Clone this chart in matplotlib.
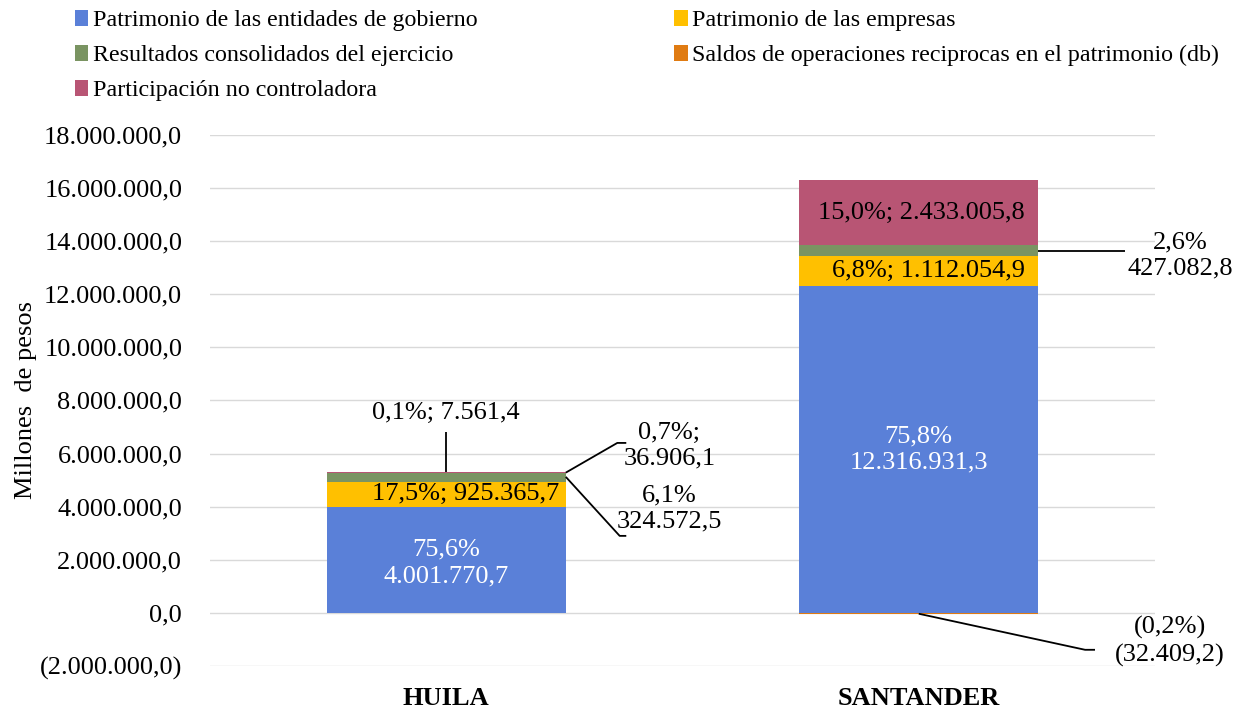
import numpy as np
import matplotlib.pyplot as plt
from matplotlib.ticker import FuncFormatter

plt.rcParams['font.family'] = ['Liberation Serif', 'DejaVu Serif']

departamentos = ['HUILA', 'SANTANDER']
series = ['Patrimonio de las entidades de gobierno',
          'Patrimonio de las empresas',
          'Resultados consolidados del ejercicio',
          'Saldos de operaciones reciprocas en el patrimonio (db)',
          'Participación no controladora']
gobierno  = [4001770.7, 12316931.3]
empresas  = [925365.7, 1112054.9]
resultados = [324572.5, 427082.8]
saldos    = [7561.4, -32409.2]
no_control = [36906.1, 2433005.8]
colores = ['#5A80D8', '#FFC000', '#7A9462', '#E07B12', '#B85574']


def fmt_num(v, dec=1):
    s = f"{abs(v):,.{dec}f}".replace(',', 'X').replace('.', ',').replace('X', '.')
    return f"({s})" if v < 0 else s


fig = plt.figure(figsize=(12.5, 7.11), dpi=100)
ax = fig.add_axes([0.168, 0.0633, 0.756, 0.747])

x = np.arange(len(departamentos))
w = 0.506
valores = [gobierno, empresas, resultados, saldos, no_control]
pos_base = np.zeros(2)
neg_base = np.zeros(2)
bars = []
for vals, col, name in zip(valores, colores, series):
    vals = np.array(vals)
    base = np.where(vals >= 0, pos_base, neg_base)
    b = ax.bar(x, vals, w, bottom=base, color=col, label=name, zorder=2)
    bars.append(b)
    pos_base = pos_base + np.where(vals >= 0, vals, 0)
    neg_base = neg_base + np.where(vals < 0, vals, 0)

ax.set_xlim(-0.5, 1.5)
ax.set_ylim(-2000000, 18000000)
ax.set_yticks(np.arange(-2000000, 18000001, 2000000))
ax.yaxis.set_major_formatter(FuncFormatter(lambda v, p: fmt_num(v)))
ax.set_xticks(x)
ax.set_xticklabels(departamentos, fontweight='bold', fontsize=19)
ax.tick_params(axis='y', labelsize=19, length=0, pad=20)
ax.tick_params(axis='x', length=0, pad=15)
ax.grid(axis='y', color='#D9D9D9', linewidth=1, zorder=0)
for s in ax.spines.values():
    s.set_visible(False)
ax.set_ylabel('Millones  de pesos', fontsize=19)
ax.yaxis.set_label_coords(-0.183, 0.5)

fs = 19
lkw = dict(color='black', lw=1.3, solid_capstyle='butt', zorder=4)

# Huila
ax.text(0, gobierno[0] / 2 - 120000, "75,6%\n" + fmt_num(gobierno[0]),
        color='white', ha='center', va='center', fontsize=fs,
        linespacing=1.25, zorder=3)
ax.text(0.04, gobierno[0] + empresas[0] / 2, "17,5%; " + fmt_num(empresas[0]),
        ha='center', va='center', fontsize=fs, zorder=3)
top_h = gobierno[0] + empresas[0] + resultados[0] + saldos[0] + no_control[0]
ax.text(0, 7520000, "0,1%; " + fmt_num(saldos[0]), ha='center',
        va='center', fontsize=fs)
ax.plot([0, 0], [6800000, top_h], **lkw)
ax.plot([w / 2, 0.362, 0.381], [top_h - 15000, 6400000, 6400000], **lkw)
ax.text(0.472, 6300000, "0,7%;\n" + fmt_num(no_control[0]), ha='center',
        va='center', fontsize=fs, linespacing=1.25)
mid_res = gobierno[0] + empresas[0] + resultados[0] * 0.6
ax.plot([w / 2, 0.367, 0.381], [mid_res, 2900000, 2900000], **lkw)
ax.text(0.472, 3920000, "6,1%\n" + fmt_num(resultados[0]), ha='center',
        va='center', fontsize=fs, linespacing=1.25)

# Santander
ax.text(1, gobierno[1] / 2, "75,8%\n" + fmt_num(gobierno[1]), color='white',
        ha='center', va='center', fontsize=fs, linespacing=1.25, zorder=3)
ax.text(1.02, gobierno[1] + empresas[1] / 2, "6,8%; " + fmt_num(empresas[1]),
        ha='center', va='center', fontsize=fs, zorder=3)
top_s = gobierno[1] + empresas[1] + resultados[1]
ax.text(1.005, top_s + no_control[1] / 2, "15,0%; " + fmt_num(no_control[1]),
        ha='center', va='center', fontsize=fs, zorder=3)
mid_rs = gobierno[1] + empresas[1] + resultados[1] / 2
ax.plot([1 + w / 2, 1.436], [mid_rs, mid_rs], **lkw)
ax.text(1.553, 13450000, "2,6%\n" + fmt_num(resultados[1]), ha='center',
        va='center', fontsize=fs, linespacing=1.25)
ax.plot([1.0, 1.352, 1.373], [saldos[1], -1390000, -1390000], **lkw)
ax.text(1.532, -1080000, "(0,2%)\n" + fmt_num(saldos[1]), ha='center',
        va='center', fontsize=fs, linespacing=1.25)

# legend filled row by row like the original
orden = [0, 2, 4, 1, 3]
handles = [bars[i].patches[0] for i in orden]
labels = [series[i] for i in orden]
fig.legend(handles, labels, loc='upper left', bbox_to_anchor=(0.0425, 1.017),
           ncol=2, frameon=False, fontsize=17.3, handlelength=0.55,
           handleheight=0.7, handletextpad=0.2, columnspacing=8.2,
           labelspacing=0.55)

plt.savefig('out.png', dpi=100)
